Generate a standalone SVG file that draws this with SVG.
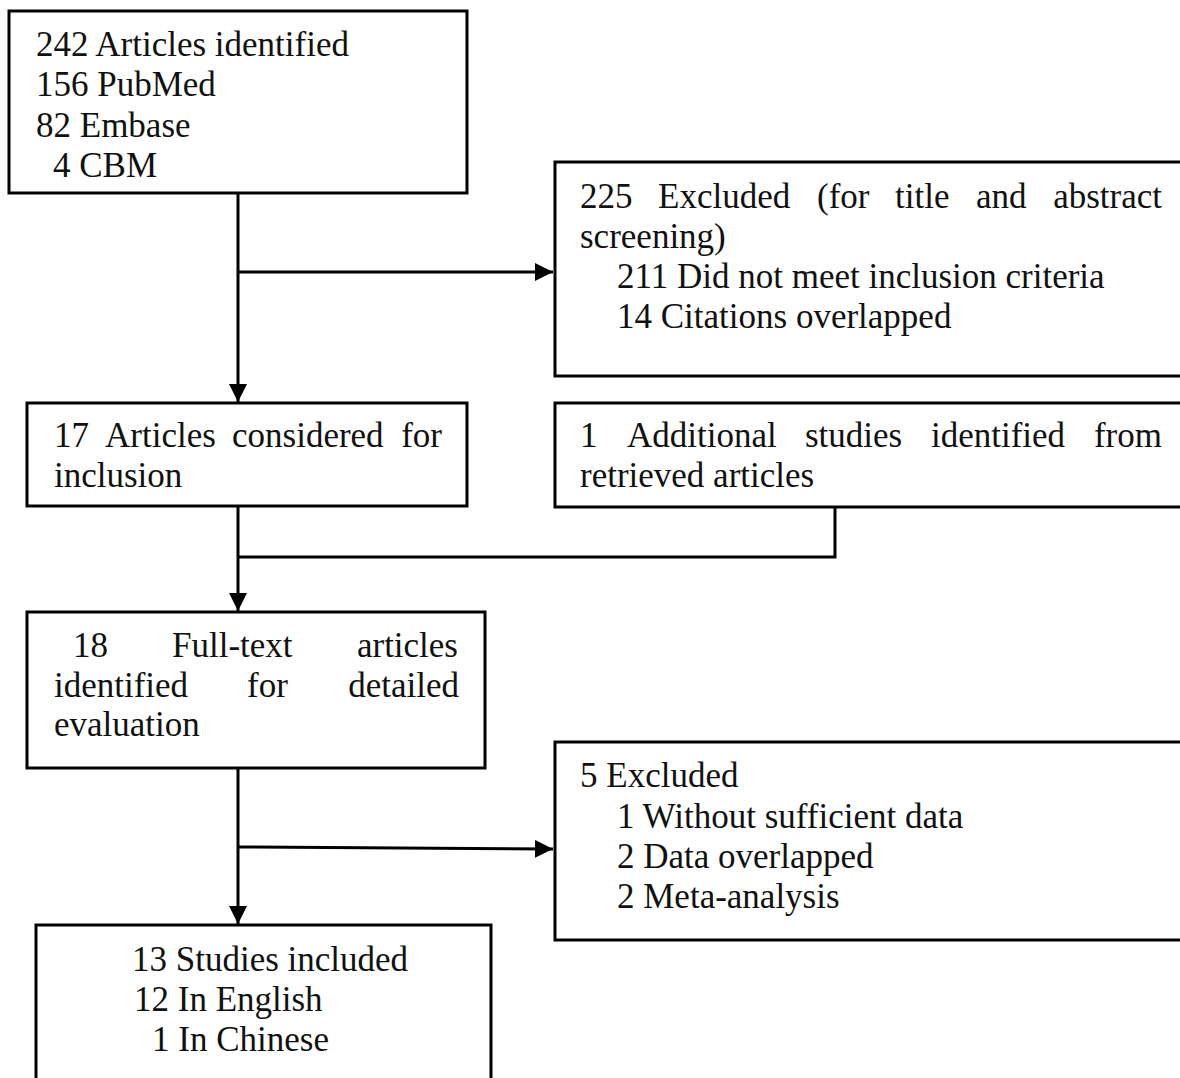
<svg xmlns="http://www.w3.org/2000/svg" width="1180" height="1078" viewBox="0 0 1180 1078">
<style>
.box{fill:#fff;stroke:#000;stroke-width:3}
text{font-family:'Liberation Serif','DejaVu Serif',serif;font-size:35px;fill:#111}
.c{fill:none;stroke:#000;stroke-width:3}
</style>
<defs>
<marker id="ah" viewBox="0 0 10 10" refX="10" refY="5" markerWidth="6" markerHeight="6" markerUnits="strokeWidth" orient="auto">
<path d="M0,0 L10,5 L0,10 Z" fill="#000"/>
</marker>
</defs>
<rect width="1180" height="1078" fill="#fff"/>
<g id="connectors">
<line class="c" x1="238" y1="193" x2="238" y2="402" marker-end="url(#ah)"/>
<line class="c" x1="238" y1="272" x2="553" y2="272" marker-end="url(#ah)"/>
<polyline class="c" points="835,507 835,557 238,557"/>
<line class="c" x1="238" y1="506" x2="238" y2="611" marker-end="url(#ah)"/>
<line class="c" x1="238" y1="768" x2="238" y2="924" marker-end="url(#ah)"/>
<line class="c" x1="238" y1="847" x2="553" y2="849" marker-end="url(#ah)"/>
</g>
<g id="n1">
<rect class="box" x="9" y="11" width="458" height="182"/>
<text x="36" y="56">242 Articles identified</text>
<text x="36" y="96">156 PubMed</text>
<text x="36" y="137">82 Embase</text>
<text x="53" y="177">4 CBM</text>
</g>
<g id="n2">
<rect class="box" x="555" y="162" width="640" height="214"/>
<text y="208"><tspan x="580">225</tspan><tspan x="658">Excluded</tspan><tspan x="817">(for</tspan><tspan x="895">title</tspan><tspan x="976">and</tspan><tspan x="1162" text-anchor="end">abstract</tspan></text>
<text x="580" y="248">screening)</text>
<text x="617" y="288">211 Did not meet inclusion criteria</text>
<text x="617" y="328">14 Citations overlapped</text>
</g>
<g id="n3">
<rect class="box" x="27" y="403" width="440" height="103"/>
<text y="447"><tspan x="54">17</tspan><tspan x="105">Articles</tspan><tspan x="232">considered</tspan><tspan x="442" text-anchor="end">for</tspan></text>
<text x="54" y="487">inclusion</text>
</g>
<g id="n4">
<rect class="box" x="555" y="403" width="640" height="104"/>
<text y="447"><tspan x="580">1</tspan><tspan x="627">Additional</tspan><tspan x="805">studies</tspan><tspan x="931">identified</tspan><tspan x="1162" text-anchor="end">from</tspan></text>
<text x="580" y="487">retrieved articles</text>
</g>
<g id="n5">
<rect class="box" x="27" y="612" width="458" height="156"/>
<text y="657"><tspan x="73">18</tspan><tspan x="172">Full-text</tspan><tspan x="458" text-anchor="end">articles</tspan></text>
<text y="697"><tspan x="54">identified</tspan><tspan x="247">for</tspan><tspan x="459" text-anchor="end">detailed</tspan></text>
<text x="54" y="736">evaluation</text>
</g>
<g id="n6">
<rect class="box" x="555" y="742" width="640" height="198"/>
<text x="580" y="787">5 Excluded</text>
<text x="617" y="828">1 Without sufficient data</text>
<text x="617" y="868">2 Data overlapped</text>
<text x="617" y="908">2 Meta-analysis</text>
</g>
<g id="n7">
<rect class="box" x="36" y="925" width="455" height="170"/>
<text x="132" y="971">13 Studies included</text>
<text x="134" y="1011">12 In English</text>
<text x="152" y="1051">1 In Chinese</text>
</g>
</svg>
